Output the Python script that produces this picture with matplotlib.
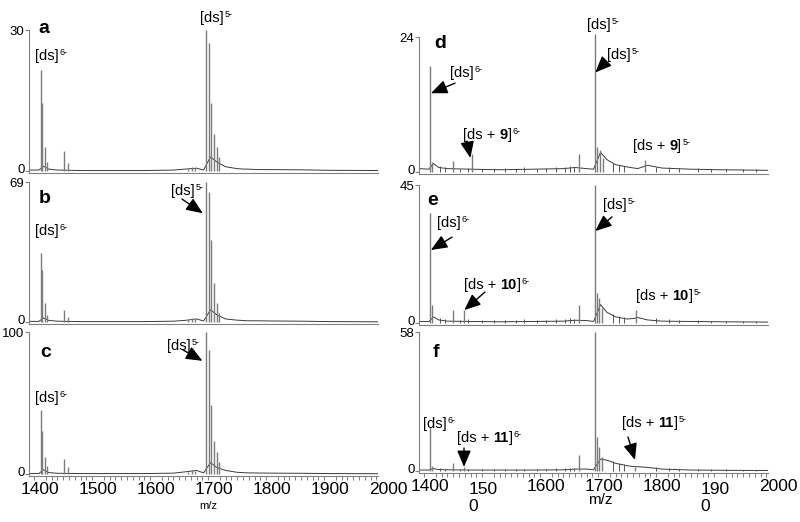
import matplotlib
matplotlib.use('Agg')
import matplotlib.pyplot as plt

plt.rcParams['font.family'] = ['Liberation Sans', 'DejaVu Sans']

# ---------------- data (m/z, intensity) ----------------
left_mz = [1401.2, 1404.0, 1408.6, 1411.5, 1441.9, 1448.8, 1655, 1662, 1668,
           1686.2, 1691.3, 1695.3, 1700.0, 1704.6, 1708.6]
a_int = [21.5, 14.5, 5.1, 1.9, 4.3, 1.7, 0.5, 0.8, 0.6, 30.0, 27.2, 14.5, 7.9, 5.1, 3.0]
b_int = [34.0, 25.6, 9.4, 3.4, 5.9, 2.5, 1.0, 2.0, 1.5, 69.0, 64.2, 40.4, 19.2, 9.4, 4.4]
c_int = [45.4, 30.3, 11.9, 5.8, 10.5, 4.9, 1.5, 3.0, 2.0, 100.0, 87.4, 48.9, 23.3, 15.4, 8.4]

d_mz = [1400, 1403, 1440, 1471.9, 1657.4, 1684, 1688, 1693, 1698, 1770.7]
d_int = [18.8, 1.8, 2.0, 3.2, 3.2, 24.5, 4.4, 3.9, 2.5, 2.1]
e_mz = [1400, 1403, 1440, 1458.6, 1657.4, 1684, 1688, 1692, 1697, 1754.6]
e_int = [35.8, 5.9, 4.2, 4.2, 5.9, 45.0, 9.8, 8.0, 5.0, 4.2]
f_mz = [1400, 1403, 1440, 1458.6, 1657.4, 1684, 1688.4, 1691.9, 1696, 1753]
f_int = [18.5, 2.0, 3.3, 1.7, 6.7, 58.0, 14.3, 10.1, 6.0, 1.8]

# small baseline spikes (right column)
noise_mz = [1418, 1426, 1452, 1465, 1490, 1510, 1530, 1548, 1562, 1585, 1600,
            1618, 1632, 1641, 1648, 1715, 1726, 1735, 1790, 1812, 1830, 1862,
            1885, 1910, 1940, 1962]
d_noise = [1.0, 0.8, 0.6, 0.7, 0.6, 0.5, 0.7, 0.6, 0.9, 0.6, 0.7, 0.8, 0.9, 1.1,
           0.9, 1.6, 1.3, 1.1, 0.9, 0.8, 0.7, 0.7, 0.6, 0.6, 0.5, 0.5]
e_noise = [1.6, 1.3, 1.0, 1.2, 0.9, 0.9, 1.0, 0.9, 1.3, 1.0, 1.1, 1.2, 1.4, 1.6,
           1.3, 2.8, 2.2, 1.8, 1.5, 1.2, 1.0, 0.9, 0.8, 0.8, 0.7, 0.6]
f_noise = [1.2, 1.0, 0.9, 1.0, 0.8, 0.8, 0.9, 0.8, 1.0, 0.9, 0.9, 1.1, 1.2, 1.4,
           1.2, 4.0, 3.4, 2.8, 1.6, 1.1, 0.9, 0.8, 0.7, 0.7, 0.6, 0.6]

# baseline / tail envelope
env_mz = [1381, 1398, 1406, 1415, 1430, 1470, 1520, 1580, 1630, 1650, 1670, 1682,
          1694, 1705, 1720, 1740, 1752, 1758, 1775, 1800, 1850, 1900, 1982]
a_env = [0.2, 0.2, 1.0, 0.4, 0.2, 0.1, 0.1, 0.1, 0.2, 0.4, 0.6, 0.2,
         3.0, 1.9, 0.9, 0.5, 0.4, 0.4, 0.3, 0.3, 0.25, 0.15, 0.1]
b_env = [0.3, 0.3, 2.0, 0.8, 0.4, 0.2, 0.2, 0.2, 0.4, 0.8, 1.5, 0.5,
         6.0, 3.5, 1.5, 0.9, 0.7, 0.6, 0.6, 0.5, 0.4, 0.2, 0.1]
c_env = [0.3, 0.3, 3.0, 1.0, 0.5, 0.3, 0.3, 0.3, 0.6, 1.5, 2.5, 0.8,
         8.0, 4.5, 2.5, 1.2, 0.9, 0.8, 0.7, 0.6, 0.5, 0.3, 0.2]
d_env = [0.6, 0.5, 1.5, 0.8, 0.6, 0.5, 0.4, 0.5, 0.6, 0.8, 0.6, 0.5,
         3.5, 2.2, 1.3, 0.9, 0.7, 0.6, 1.2, 0.7, 0.5, 0.4, 0.3]
e_env = [0.5, 0.5, 2.0, 1.0, 0.6, 0.5, 0.4, 0.5, 0.6, 0.9, 0.8, 0.5,
         6.0, 3.5, 2.0, 1.3, 1.5, 1.8, 1.0, 0.6, 0.5, 0.4, 0.3]
f_env = [0.4, 0.4, 1.0, 0.6, 0.5, 0.4, 0.4, 0.4, 0.5, 0.8, 0.8, 0.5,
         5.0, 4.5, 3.2, 2.2, 1.8, 1.8, 1.5, 0.8, 0.4, 0.3, 0.2]

y_max = {'a': 30, 'b': 69, 'c': 100, 'd': 24, 'e': 45, 'f': 58}
x_ticks = [1400, 1500, 1600, 1700, 1800, 1900, 2000]
left_xlabels = ['1400', '1500', '1600', '1700', '1800', '1900', '2000']
right_xlabels = ['1400', '150\n0', '1600', '1700', '1800', '190\n0', '2000']

# ---------------- layout ----------------
W, H = 800, 522
fig = plt.figure(figsize=(W / 100, H / 100), dpi=100)
XMIN, XMAX, XEND = 1381, 2000, 1982
GREY = '#808080'

# (x0_px, top_px, zero_px)
geom = {'a': (29, 30, 171), 'b': (29, 182, 322), 'c': (29, 332, 474),
        'd': (419, 37, 172), 'e': (419, 185, 323), 'f': (419, 332, 471)}
series = {'a': (left_mz, a_int, a_env, None), 'b': (left_mz, b_int, b_env, None),
          'c': (left_mz, c_int, c_env, None), 'd': (d_mz, d_int, d_env, d_noise),
          'e': (e_mz, e_int, e_env, e_noise), 'f': (f_mz, f_int, f_env, f_noise)}

FS = 10.5


def rich(ax, x, y, parts, sup):
    t = ax.text(x, y, parts[0][0], fontsize=FS, fontweight=parts[0][1],
                ha='left', va='baseline')
    prev = t
    for s, w, gap in parts[1:]:
        prev = ax.annotate(s, xy=(1, 0), xycoords=prev, xytext=(gap, 0),
                           textcoords='offset points', fontsize=FS,
                           fontweight=w, ha='left', va='bottom')
    ax.annotate(sup, xy=(1, 1), xycoords=prev, xytext=(0.6, -2.5),
                textcoords='offset points', fontsize=6.5, ha='left',
                va='center')


def arrow(ax, tail, tip):
    ax.annotate('', xy=tip, xytext=tail,
                arrowprops=dict(arrowstyle='-|>,head_length=1.0,head_width=0.42',
                                mutation_scale=10, color='black', lw=1.0,
                                shrinkA=0, shrinkB=0), annotation_clip=False)


DS = [('[ds]', 'normal', 0)]


def DSN(n):
    return [('[ds +', 'normal', 0), (n, 'bold', 2.8), (']', 'normal', 0)]


axes = {}
for key in 'abcdef':
    x0, top, zero = geom[key]
    bot = zero + 2
    ymax = y_max[key]
    ax = fig.add_axes([x0 / W, 1 - bot / H, 359 / W, (bot - top) / H])
    axes[key] = ax
    mz, inten, env, noise = series[key]
    ax.plot(env_mz, env, color='#3a3a3a', lw=0.7, zorder=2)
    if noise is not None:
        ax.vlines(noise_mz, 0, noise, color='#555555', lw=0.7, zorder=2)
    ax.vlines(mz, 0, inten, color='#7c7c7c', lw=1.0, zorder=3, clip_on=False)
    ax.set_xlim(XMIN, XMAX)
    ax.set_ylim(-2 * ymax / (zero - top), ymax)
    for s in ('top', 'right'):
        ax.spines[s].set_visible(False)
    for s in ('left', 'bottom'):
        ax.spines[s].set_color(GREY)
        ax.spines[s].set_linewidth(0.8)
    ax.spines['bottom'].set_bounds(XMIN, XEND)
    ax.spines['left'].set_bounds(ax.get_ylim()[0], ymax)
    ax.set_yticks([0, ymax])
    ax.set_yticklabels(['', ''])
    ax.tick_params(axis='y', length=3, color=GREY)
    # y value labels: zero slightly raised, maximum slightly lowered
    for val, dy in ((0, 1.0), (ymax, -1.5)):
        ax.annotate(str(val), xy=(0, val), xycoords=('axes fraction', 'data'),
                    xytext=(-3.2, dy), textcoords='offset points',
                    ha='right', va='center', fontsize=9.5)
    if key in 'cf':
        ax.set_xticks(x_ticks)
        ax.set_xticks(range(1390, 1990, 10), minor=True)
        ax.tick_params(axis='x', which='major', length=0, pad=4, labelsize=12.5)
        ax.tick_params(axis='x', which='minor', length=3, color=GREY, width=0.7)
    else:
        ax.set_xticks([])

# x tick labels
axes['c'].set_xticklabels(left_xlabels)
axes['f'].set_xticklabels(['' if '\n' in s else s for s in right_xlabels])
for tk, s in zip(x_ticks, right_xlabels):
    if '\n' in s:
        axes['f'].annotate(s, xy=(tk, 0), xycoords=('data', 'axes fraction'),
                           xytext=(-14, -6.3), textcoords='offset points',
                           ha='left', va='top', multialignment='left',
                           fontsize=12.5)

fig.text(208 / W, 1 - 506 / H, 'm/z', fontsize=8, ha='center', va='center')
fig.text(600 / W, 1 - 500 / H, 'm/z', fontsize=11, ha='center', va='center')

# panel letters
letters = {'a': (1398, 29.4), 'b': (1398, 58.7), 'c': (1400, 82.5),
           'd': (1406.9, 22.0), 'e': (1394.8, 38.5), 'f': (1405.1, 47.6)}
for key, (x, y) in letters.items():
    axes[key].text(x, y, key, fontsize=14, fontweight='bold', ha='left',
                   va='baseline')

# annotations
ax = axes['a']
rich(ax, 1391.3, 23.6, DS, '6-')
rich(ax, 1675.8, 31.7, DS, '5-')

ax = axes['b']
rich(ax, 1391.3, 42.9, DS, '6-')
rich(ax, 1625.8, 62.6, DS, '5-')
arrow(ax, (1644.8, 60.6), (1680.5, 53.6))

ax = axes['c']
rich(ax, 1391.3, 51.0, DS, '6-')
rich(ax, 1618.9, 87.4, DS, '5-')
arrow(ax, (1646.5, 87.4), (1680.0, 79.7))

ax = axes['d']
rich(ax, 1434.4, 16.9, DS, '6-')
arrow(ax, (1443.1, 15.8), (1401.5, 14.0))
rich(ax, 1670.7, 25.4, DS, '5-')
rich(ax, 1705.1, 20.1, DS, '5-')
arrow(ax, (1703.4, 19.6), (1685.0, 17.7))
rich(ax, 1456.9, 5.87, DSN('9'), '6-')
arrow(ax, (1463.8, 5.5), (1469.5, 2.5))
rich(ax, 1750.0, 3.9, DSN('9'), '5-')

ax = axes['e']
rich(ax, 1412.0, 31.3, DS, '6-')
arrow(ax, (1437.9, 28.0), (1401.5, 23.8))
rich(ax, 1698.2, 37.2, DS, '5-')
arrow(ax, (1713.8, 34.6), (1685.0, 30.0))
rich(ax, 1458.6, 11.1, DSN('10'), '6-')
arrow(ax, (1494.8, 10.1), (1459.0, 4.2))
rich(ax, 1755.1, 7.5, DSN('10'), '5-')

ax = axes['f']
rich(ax, 1387.9, 17.9, DS, '6-')
rich(ax, 1446.5, 12.1, DSN('11'), '6-')
arrow(ax, (1458.6, 9.6), (1458.6, 1.7))
rich(ax, 1731.0, 18.4, DSN('11'), '5-')
arrow(ax, (1741.3, 14.2), (1753.4, 4.6))

fig.savefig('out.png', dpi=100)
